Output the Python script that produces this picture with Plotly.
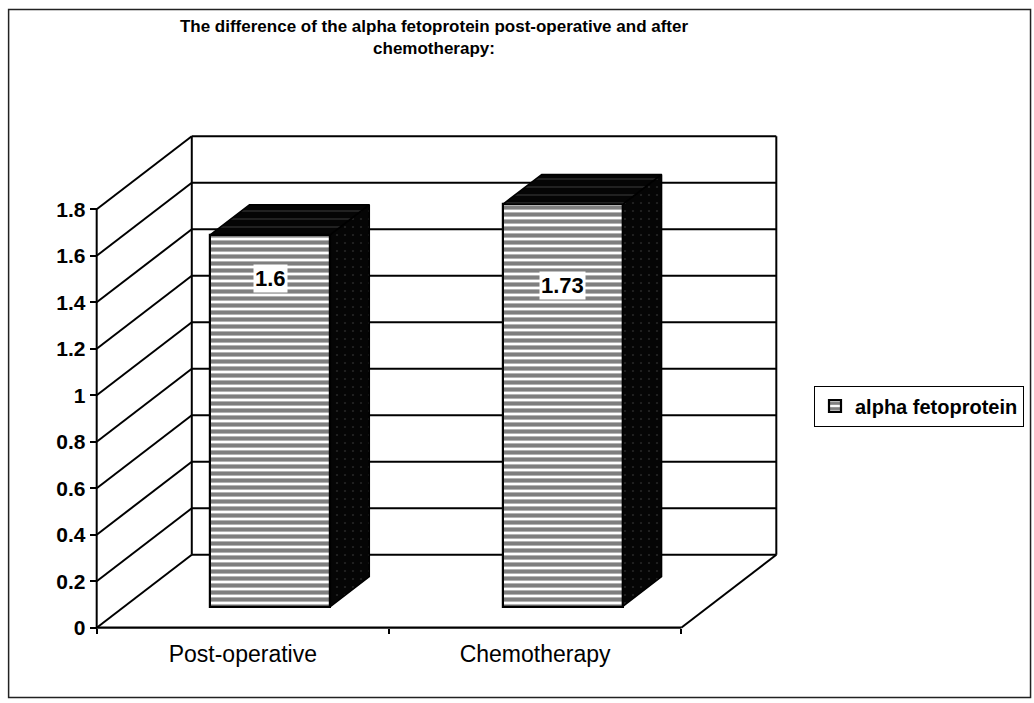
import plotly.graph_objects as go

# ---------------- data ----------------
categories = ["Post-operative", "Chemotherapy"]
values = [1.6, 1.73]
value_labels = ["1.6", "1.73"]
series_name = "alpha fetoprotein"
y_tick_vals = [0, 0.2, 0.4, 0.6, 0.8, 1, 1.2, 1.4, 1.6, 1.8]
y_tick_text = ["0", "0.2", "0.4", "0.6", "0.8", "1", "1.2", "1.4", "1.6", "1.8"]
title_text = ("<b>The difference of the alpha fetoprotein post-operative and after"
              "<br>chemotherapy:</b>")

# ---------------- geometry (pixels -> data units) ----------------
W, H = 1034, 703
X_AXIS_PX = 97          # front value axis
X_FRONT_RIGHT_PX = 681  # right end of front category axis
Y_ZERO_PX = 628
Y_MAX_PX = 209          # pixel of 1.8 on the front axis
Y_AXIS_MAX = 1.8
n = len(categories)
px_x = (X_FRONT_RIGHT_PX - X_AXIS_PX) / n
px_y = (Y_ZERO_PX - Y_MAX_PX) / Y_AXIS_MAX
DX = 95 / px_x          # depth vector of the 3-D box
DY = 73 / px_y
PAD = 0.04

x_min = -0.5 - PAD
x_max = n - 0.5 + DX + PAD
y_min = -PAD
y_max = Y_AXIS_MAX + DY + PAD

m_l = X_AXIS_PX - PAD * px_x
plot_w = (x_max - x_min) * px_x
m_r = W - m_l - plot_w
m_b = (H - Y_ZERO_PX) - PAD * px_y
plot_h = (y_max - y_min) * px_y
m_t = H - m_b - plot_h

F0, F1 = 0.29, 0.70     # depth fractions of bar front / back
BAR_W = 0.41
label_y_pos = [1.50, 1.47]

FONT = "Liberation Sans, Arial, sans-serif"

fig = go.Figure()

# ---------------- walls, floor, gridlines ----------------
shapes = []
def seg(x0, y0, x1, y1, width=2):
    shapes.append(dict(type="line", xref="x", yref="y", x0=x0, y0=y0, x1=x1, y1=y1,
                       line=dict(color="black", width=width), layer="below"))

xl_front, xr_front = -0.5, n - 0.5
for v in y_tick_vals:
    seg(xl_front, v, xl_front + DX, v + DY)                 # side wall
    seg(xl_front + DX, v + DY, xr_front + DX, v + DY)       # back wall grid
seg(xl_front, 0, xl_front, Y_AXIS_MAX, 2)                   # front value axis
seg(xl_front + DX, DY, xl_front + DX, Y_AXIS_MAX + DY)      # wall corner
seg(xr_front + DX, DY, xr_front + DX, Y_AXIS_MAX + DY)      # back wall right
seg(xl_front, 0, xr_front, 0, 2.2)                          # floor front edge
seg(xr_front, 0, xr_front + DX, DY)                         # floor right edge

# outer border of the chart area (paper coords computed from pixels)
def px2paper_x(px):
    return (px - m_l) / plot_w
def px2paper_y(py):
    return (H - m_b - py) / plot_h
shapes.append(dict(type="rect", xref="paper", yref="paper",
                   x0=px2paper_x(9), x1=px2paper_x(1030),
                   y0=px2paper_y(698), y1=px2paper_y(9),
                   line=dict(color="#222", width=1.5), layer="below"))

# ---------------- 3-D bars ----------------
b0 = F0 * DY
d = F1 - F0
for i, v in enumerate(values):
    xc = i + F0 * DX
    xl = xc - BAR_W / 2
    xr = xc + BAR_W / 2
    top = b0 + v
    # side face
    fig.add_trace(go.Scatter(
        x=[xr, xr + d * DX, xr + d * DX, xr, xr],
        y=[b0, b0 + d * DY, top + d * DY, top, b0],
        mode="lines", fill="toself", fillcolor="#050505",
        fillpattern=dict(shape=".", fgcolor="#444", bgcolor="#050505", size=8, solidity=0.06),
        line=dict(color="black", width=1.5), showlegend=False, hoverinfo="skip"))
    # top face
    fig.add_trace(go.Scatter(
        x=[xl, xl + d * DX, xr + d * DX, xr, xl],
        y=[top, top + d * DY, top + d * DY, top, top],
        mode="lines", fill="toself", fillcolor="#050505",
        fillpattern=dict(shape="-", fgcolor="#777", bgcolor="#050505", size=8, solidity=0.12),
        line=dict(color="black", width=1.5), showlegend=False, hoverinfo="skip"))

fig.add_trace(go.Bar(
    x=[i + F0 * DX for i in range(n)],
    y=values,
    base=[b0] * n,
    width=BAR_W,
    name=f"<b>{series_name}</b>",
    marker=dict(color="white", line=dict(color="black", width=2.2),
                pattern=dict(shape="-", fgcolor="black", bgcolor="white",
                             size=7, solidity=0.6)),
    hovertemplate="%{y}<extra></extra>",
))

# data labels
for i, (v, t) in enumerate(zip(values, value_labels)):
    fig.add_annotation(x=i + F0 * DX, y=label_y_pos[i], xref="x", yref="y",
                       text=f"<b>{t}</b>", showarrow=False, bgcolor="white",
                       borderpad=1, font=dict(family=FONT, size=22, color="black"))

fig.update_layout(
    width=W, height=H,
    margin=dict(l=m_l, r=m_r, t=m_t, b=m_b, autoexpand=False),
    paper_bgcolor="white", plot_bgcolor="white",
    shapes=shapes,
    title=dict(text=title_text, xref="container", yref="container",
               x=434 / W, xanchor="center", y=1 - 32 / H, yanchor="middle",
               font=dict(family=FONT, size=17, color="black")),
    xaxis=dict(range=[x_min, x_max], anchor="free",
               position=(0 - y_min) / (y_max - y_min),
               tickvals=list(range(n)), ticktext=categories,
               ticks="", showgrid=False, zeroline=False, showline=False,
               ticklabelstandoff=10,
               minor=dict(ticks="outside", tick0=-0.5, dtick=1, ticklen=5,
                          tickcolor="black", tickwidth=1.5, showgrid=False),
               tickfont=dict(family=FONT, size=23, color="black")),
    yaxis=dict(range=[y_min, y_max], anchor="free",
               position=(-0.5 - x_min) / (x_max - x_min),
               tickvals=y_tick_vals, ticktext=[f"<b>{t}</b>" for t in y_tick_text],
               ticks="outside", ticklen=7, tickwidth=2, tickcolor="black",
               showgrid=False, zeroline=False, showline=False,
               tickfont=dict(family=FONT, size=21, color="black")),
    showlegend=True,
    legend=dict(xref="container", yref="container", x=814 / W, xanchor="left",
                y=1 - 406 / H, yanchor="middle",
                bordercolor="black", borderwidth=1, bgcolor="white",
                font=dict(family=FONT, size=20, color="black"),
                itemwidth=30),
    bargap=0,
)

fig.write_html("out.html", config={"displayModeBar": False},
               post_script="document.body.style.margin='0';")
